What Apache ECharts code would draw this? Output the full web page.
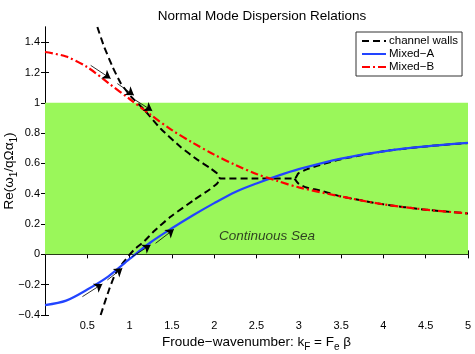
<!DOCTYPE html>
<html>
<head>
<meta charset="utf-8">
<script src="https://cdn.jsdelivr.net/npm/echarts@6/dist/echarts.min.js"></script>
<style>
  html, body { margin: 0; padding: 0; background: #fff; }
  #main { width: 475px; height: 354px; }
</style>
</head>
<body>
<div id="main"></div>
<script>
// ===== data =====
var xTicks = [0.5, 1, 1.5, 2, 2.5, 3, 3.5, 4, 4.5, 5];
var yTicks = [-0.4, -0.2, 0, 0.2, 0.4, 0.6, 0.8, 1, 1.2, 1.4];

// Mixed-A (blue)
var mixedA = [
    [0, -0.335], [0.25, -0.305], [0.5, -0.232], [0.75, -0.145], [1, -0.03],
    [1.25, 0.08], [1.5, 0.172], [1.75, 0.258], [2, 0.338], [2.25, 0.412],
    [2.5, 0.468], [2.75, 0.518], [3, 0.562], [3.5, 0.632], [4, 0.68],
    [4.5, 0.712], [5, 0.735]
];
// Mixed-B (red)
var mixedB = [
    [0, 1.335], [0.25, 1.305], [0.5, 1.235], [0.75, 1.13], [1, 1.025],
    [1.25, 0.92], [1.5, 0.82], [1.75, 0.735], [2, 0.658], [2.25, 0.59],
    [2.5, 0.53], [2.75, 0.484], [3, 0.442], [3.5, 0.382], [4, 0.33],
    [4.5, 0.295], [5, 0.27]
];
// channel walls (black dashed), drawn as several pieces
var wallsUpper = [
    [0.619, 1.5], [0.697, 1.373], [0.796, 1.241], [0.894, 1.131], [1.012, 1.044],
    [1.169, 0.956], [1.366, 0.83], [1.6, 0.71], [1.8, 0.625], [1.95, 0.57],
    [2.035, 0.534], [2.074, 0.5], [2.5, 0.5], [2.95, 0.5], [2.995, 0.534],
    [3.1, 0.562], [3.25, 0.59], [3.5, 0.628], [4, 0.68], [4.5, 0.712], [5, 0.735]
];
var wallsLower = [
    [0.658, -0.4], [0.756, -0.235], [0.835, -0.125], [0.933, -0.048], [1.051, 0.029],
    [1.169, 0.084], [1.287, 0.152], [1.484, 0.248], [1.759, 0.358], [1.95, 0.43],
    [2.035, 0.468], [2.074, 0.5]
];
var wallsRight = [
    [2.95, 0.5], [3.0, 0.465], [3.1, 0.44], [3.25, 0.422], [3.5, 0.382],
    [4, 0.33], [4.5, 0.295], [5, 0.27]
];
// small arrows: [from, to]
var arrows = [
    [[0.54, 1.247], [0.776, 1.16]],
    [[0.855, 1.127], [1.051, 1.05]],
    [[1.071, 1.017], [1.268, 0.947]],
    [[0.442, -0.279], [0.678, -0.195]],
    [[0.737, -0.169], [0.914, -0.092]],
    [[1.032, -0.015], [1.248, 0.062]],
    [[1.307, 0.073], [1.523, 0.165]]
];
var seaBand = [0, 1];
var seaLabel = [2.625, 0.117];

var font = 'Liberation Sans, Arial, Helvetica, sans-serif';
var chart = echarts.init(document.getElementById('main'));

function fmt(v) {
    return String(v).replace('-', '\u2212');
}

var wallStyle = { color: '#000', width: 2, type: [7, 4] };

var option = {
    animation: false,
    title: {
        text: 'Normal Mode Dispersion Relations',
        left: 257,
        top: 4,
        textAlign: 'center',
        textStyle: { fontFamily: font, fontSize: 13.5, fontWeight: 'normal', color: '#000' }
    },
    legend: {
        data: ['channel walls', 'Mixed\u2212A', 'Mixed\u2212B'],
        orient: 'vertical',
        left: 356,
        top: 32,
        backgroundColor: '#fff',
        borderColor: '#333',
        borderWidth: 1,
        borderRadius: 0,
        padding: [3, 4, 3, 5],
        itemGap: 1,
        itemWidth: 24,
        itemHeight: 11,
        itemStyle: { opacity: 0 },
        textStyle: { fontFamily: font, fontSize: 11.5, color: '#000', padding: [0, 0, 0, -2] }
    },
    grid: { left: 45, right: 7, top: 27, bottom: 39, containLabel: false, outerBoundsMode: 'none' },
    xAxis: [{
        type: 'value', min: 0, max: 5,
        name: '{n|Froude\u2212wavenumber: k}{s|F}{n| = F}{s|e}{n| \u03b2}',
        nameLocation: 'middle', nameGap: 18, nameMoveOverlap: false,
        nameTextStyle: {
            rich: {
                n: { fontFamily: font, fontSize: 13.5, color: '#000' },
                s: { fontFamily: font, fontSize: 10, color: '#000', verticalAlign: 'bottom', padding: [9, 0, 0, 0] }
            }
        },
        axisLine: { lineStyle: { color: '#000', width: 1 } },
        axisTick: { inside: true, length: 4, customValues: xTicks, lineStyle: { color: '#000' } },
        axisLabel: { customValues: xTicks, formatter: fmt, margin: 5, fontFamily: font, fontSize: 11, color: '#000' },
        splitLine: { show: false }
    }, {
        type: 'value', min: 0, max: 5, position: 'top',
        axisLine: { lineStyle: { color: '#000', width: 1 } },
        axisTick: { inside: true, length: 4, customValues: xTicks, lineStyle: { color: '#000' } },
        axisLabel: { show: false },
        splitLine: { show: false }
    }],
    yAxis: [{
        type: 'value', min: -0.4, max: 1.5,
        name: 'Re(\u03c9{s|1}/q\u03a9\u03b1{s|1})',
        nameLocation: 'middle', nameGap: 26, nameRotate: 90, nameMoveOverlap: false,
        nameTextStyle: {
            fontFamily: font, fontSize: 13.5, color: '#000',
            rich: {
                s: { fontFamily: font, fontSize: 10, color: '#000', verticalAlign: 'bottom', padding: [9, 0, 0, 0] }
            }
        },
        axisLine: { lineStyle: { color: '#000', width: 1 } },
        axisTick: { inside: true, length: 4, customValues: yTicks, lineStyle: { color: '#000' } },
        axisLabel: { customValues: yTicks, formatter: fmt, margin: 5, fontFamily: font, fontSize: 11, color: '#000' },
        splitLine: { show: false }
    }, {
        type: 'value', min: -0.4, max: 1.5, position: 'right',
        axisLine: { lineStyle: { color: '#000', width: 1 } },
        axisTick: { inside: true, length: 4, customValues: yTicks, lineStyle: { color: '#000' } },
        axisLabel: { show: false },
        splitLine: { show: false }
    }],
    series: [
        {
            name: 'channel walls', type: 'line', data: wallsUpper, smooth: 0.2,
            showSymbol: false, symbol: 'none', lineStyle: wallStyle, itemStyle: { color: '#000' },
            markArea: {
                silent: true,
                itemStyle: { color: '#9af75a' },
                data: [[{ yAxis: seaBand[0] }, { yAxis: seaBand[1] }]]
            },
            z: 2
        },
        {
            name: 'channel walls', type: 'line', data: wallsLower, smooth: 0.2,
            showSymbol: false, symbol: 'none', lineStyle: wallStyle, itemStyle: { color: '#000' }, z: 2
        },
        {
            name: 'channel walls', type: 'line', data: wallsRight, smooth: 0.2,
            showSymbol: false, symbol: 'none', lineStyle: wallStyle, itemStyle: { color: '#000' }, z: 2
        },
        {
            name: 'Mixed\u2212A', type: 'line', data: mixedA, smooth: 0.3,
            showSymbol: false, symbol: 'none',
            lineStyle: { color: '#2244ff', width: 2.2 }, itemStyle: { color: '#2244ff' }, z: 3
        },
        {
            name: 'Mixed\u2212B', type: 'line', data: mixedB, smooth: 0.3,
            showSymbol: false, symbol: 'none',
            lineStyle: { color: '#ff0000', width: 2.2, type: [8, 3, 2, 3] }, itemStyle: { color: '#ff0000' }, z: 4
        },
        {
            name: 'arrows', type: 'lines', coordinateSystem: 'cartesian2d',
            symbol: ['none', 'arrow'], symbolSize: 8,
            lineStyle: { color: '#000', width: 0.8, opacity: 1 },
            data: arrows.map(function (a) { return { coords: a }; }),
            z: 5
        },
        {
            name: 'label', type: 'scatter', data: [seaLabel], symbolSize: 0,
            label: {
                show: true, position: 'inside', formatter: 'Continuous Sea',
                fontFamily: font, fontSize: 13.5, fontStyle: 'italic', color: '#111'
            },
            z: 5
        }
    ]
};
chart.setOption(option);
</script>
</body>
</html>
